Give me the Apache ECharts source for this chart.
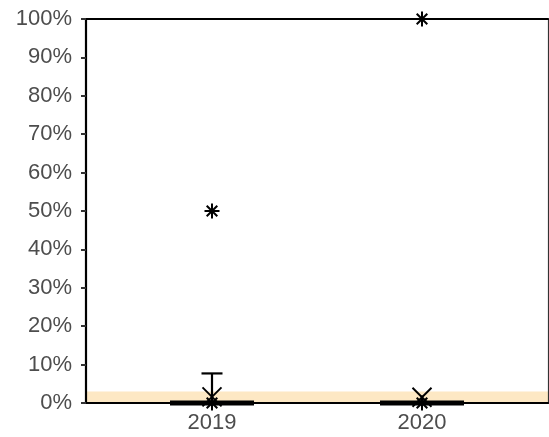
<!DOCTYPE html>
<html>
<head>
<meta charset="utf-8">
<script src="https://cdn.jsdelivr.net/npm/echarts@6/dist/echarts.min.js"></script>
<style>
html,body{margin:0;padding:0;background:#fff;}
#chart{width:549px;height:437px;}
</style>
</head>
<body>
<div id="chart"></div>
<script>
// ---- data ----
var years = ["2019", "2020"];
var whiskerLow = [0, 0];
var q1 = [0, 0];
var median = [0, 0];
var q3 = [0, 0];
var whiskerHigh = [7.7, 0];
var means = [1.6, 1.5];
var points2019 = [0, 50];
var points2020 = [0, 100];
var bandLow = 0;
var bandHigh = 3;
var yTicks = [0, 10, 20, 30, 40, 50, 60, 70, 80, 90, 100];

// ---- build series data ----
var boxData = years.map(function (y, i) {
  return [i, whiskerLow[i], q1[i], median[i], q3[i], whiskerHigh[i]];
});
var meanData = years.map(function (y, i) { return [i, means[i]]; });
var pointData = [];
[points2019, points2020].forEach(function (arr, i) {
  arr.forEach(function (v) { pointData.push([i, v]); });
});

var chart = echarts.init(document.getElementById('chart'), null, {renderer: 'canvas'});
var labelColor = '#4d4d4d';
var font = 'Liberation Sans, Arial, Helvetica, sans-serif';

var option = {
  animation: false,
  backgroundColor: '#ffffff',
  grid: {left: 86, right: 1, top: 19, bottom: 34, show: false},
  xAxis: [{
    type: 'value', min: -0.6, max: 1.6, position: 'bottom', z: 5,
    splitLine: {show: false},
    axisLine: {show: true, onZero: false, lineStyle: {color: '#000', width: 2.2}},
    axisTick: {show: true, length: 5, customValues: [0, 1], lineStyle: {color: '#333', width: 2}},
    axisLabel: {
      show: true, customValues: [0, 1], margin: 9,
      color: labelColor, fontSize: 22, fontFamily: font,
      formatter: function (v) { return years[Math.round(v)]; }
    }
  }, {
    type: 'value', min: -0.6, max: 1.6, position: 'top', z: 5,
    splitLine: {show: false},
    axisLine: {show: true, onZero: false, lineStyle: {color: '#000', width: 2.2}},
    axisTick: {show: false}, axisLabel: {show: false}
  }],
  yAxis: [{
    type: 'value', min: 0, max: 100, interval: 10, position: 'left', z: 5,
    splitLine: {show: false},
    axisLine: {show: true, onZero: false, lineStyle: {color: '#000', width: 2.2}},
    axisTick: {show: true, length: 5, lineStyle: {color: '#333', width: 2}},
    axisLabel: {
      margin: 14, color: labelColor, fontSize: 22, fontFamily: font,
      formatter: function (v) { return yTicks.indexOf(v) >= 0 ? v + '%' : ''; }
    }
  }, {
    type: 'value', min: 0, max: 100, interval: 10, position: 'right', z: 5,
    splitLine: {show: false},
    axisLine: {show: true, onZero: false, lineStyle: {color: '#333', width: 1.2}},
    axisTick: {show: false}, axisLabel: {show: false}
  }],
  series: [
    {
      type: 'custom', z: 1, clip: true,
      data: [[bandLow, bandHigh]],
      renderItem: function (params, api) {
        var a = api.coord([-0.6, api.value(1)]);
        var b = api.coord([1.6, api.value(0)]);
        return {type: 'rect', shape: {x: a[0], y: a[1], width: b[0] - a[0], height: b[1] - a[1]},
          style: {fill: '#fde8c4'}};
      }
    },
    {
      type: 'custom', z: 6, clip: false,
      data: boxData,
      renderItem: function (params, api) {
        var x = api.value(0);
        var low = api.coord([x, api.value(1)]);
        var pq1 = api.coord([x, api.value(2)]);
        var pmed = api.coord([x, api.value(3)]);
        var pq3 = api.coord([x, api.value(4)]);
        var high = api.coord([x, api.value(5)]);
        var bw = api.size([0.4, 0])[0];
        var cw = api.size([0.1, 0])[0];
        var cx = pmed[0];
        var children = [];
        if (high[1] < pq3[1] - 0.5) {
          children.push({type: 'line', shape: {x1: cx, y1: pq3[1], x2: cx, y2: high[1]}, style: {stroke: '#000', lineWidth: 2.2}});
          children.push({type: 'line', shape: {x1: cx - cw / 2, y1: high[1], x2: cx + cw / 2, y2: high[1]}, style: {stroke: '#000', lineWidth: 2.2}});
        }
        if (low[1] > pq1[1] + 0.5) {
          children.push({type: 'line', shape: {x1: cx, y1: pq1[1], x2: cx, y2: low[1]}, style: {stroke: '#000', lineWidth: 2.2}});
          children.push({type: 'line', shape: {x1: cx - cw / 2, y1: low[1], x2: cx + cw / 2, y2: low[1]}, style: {stroke: '#000', lineWidth: 2.2}});
        }
        children.push({type: 'rect', shape: {x: cx - bw / 2, y: pq3[1], width: bw, height: pq1[1] - pq3[1]},
          style: {fill: 'rgba(0,0,0,0)', stroke: '#000', lineWidth: 1.5}});
        children.push({type: 'line', shape: {x1: cx - bw / 2, y1: pmed[1], x2: cx + bw / 2, y2: pmed[1]},
          style: {stroke: '#000', lineWidth: 5}});
        return {type: 'group', children: children};
      }
    },
    {
      type: 'custom', z: 7, clip: false,
      data: pointData,
      renderItem: function (params, api) {
        var p = api.coord([api.value(0), api.value(1)]);
        var r = 7.5, d = 5.3;
        var st = {stroke: '#000', lineWidth: 2};
        return {type: 'group', children: [
          {type: 'line', shape: {x1: p[0], y1: p[1] - r, x2: p[0], y2: p[1] + r}, style: st},
          {type: 'line', shape: {x1: p[0] - r, y1: p[1], x2: p[0] + r, y2: p[1]}, style: st},
          {type: 'line', shape: {x1: p[0] - d, y1: p[1] - d, x2: p[0] + d, y2: p[1] + d}, style: st},
          {type: 'line', shape: {x1: p[0] - d, y1: p[1] + d, x2: p[0] + d, y2: p[1] - d}, style: st}
        ]};
      }
    },
    {
      type: 'custom', z: 8, clip: false,
      data: meanData,
      renderItem: function (params, api) {
        var p = api.coord([api.value(0), api.value(1)]);
        var r = 9.5;
        var st = {stroke: '#000', lineWidth: 2};
        return {type: 'group', children: [
          {type: 'line', shape: {x1: p[0] - r, y1: p[1] - r, x2: p[0] + r, y2: p[1] + r}, style: st},
          {type: 'line', shape: {x1: p[0] - r, y1: p[1] + r, x2: p[0] + r, y2: p[1] - r}, style: st}
        ]};
      }
    }
  ]
};
chart.setOption(option);
</script>
</body>
</html>
